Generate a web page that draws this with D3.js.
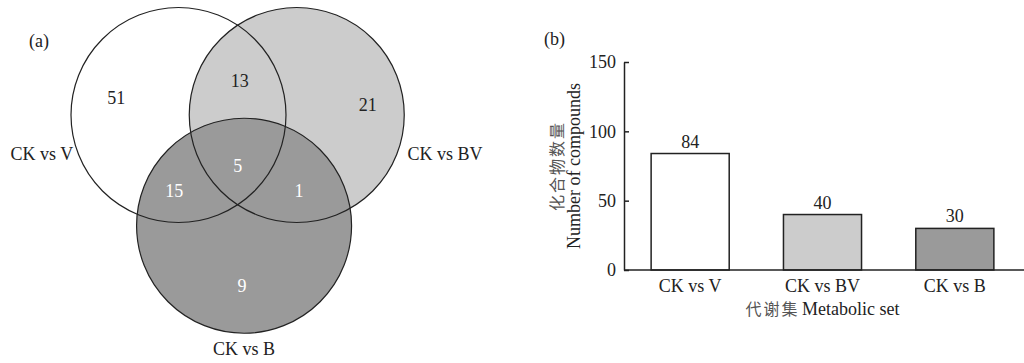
<!DOCTYPE html>
<html>
<head>
<meta charset="utf-8">
<script src="https://cdn.jsdelivr.net/npm/d3@7"></script>
<style>
  body { margin: 0; background: #fff; }
  text { font-family: "Liberation Serif", "Times New Roman", serif; fill: #222; }
  .cjk { font-family: "Noto Sans CJK SC", sans-serif; }
</style>
</head>
<body>
<script>
// data
var sets = ["CK vs V", "CK vs BV", "CK vs B"];
var setColors = ["#ffffff", "#cccccc", "#9a9a9a"];
// venn region counts: key = which sets the region belongs to
var regionKeys = ["V", "BV", "B", "V&BV", "V&B", "BV&B", "V&BV&B"];
var regionCounts = [51, 21, 9, 13, 15, 1, 5];
// bar chart totals
var barValues = [84, 40, 30];
var yTicks = [0, 50, 100, 150];

var W = 1024, H = 363;
var fs = "18px";
var svg = d3.select("body").append("svg")
    .attr("width", W)
    .attr("height", H);

//---------------- (a) Venn ----------------
// layout in unit coords (circle radius = 1)
var vx = d3.scaleLinear().domain([0, 1]).range([178.5, 286]);
var vy = d3.scaleLinear().domain([0, 1]).range([115, 222.5]);
var r = vx(1) - vx(0);

var circlePos = [[0, 0], [1.1, 0], [0.61, 1.03]];
var labelPos = {
    "V": [-0.58, -0.16], "BV": [1.76, -0.1], "B": [0.59, 1.59],
    "V&BV": [0.57, -0.32], "V&B": [-0.04, 0.7], "BV&B": [1.12, 0.7], "V&BV&B": [0.55, 0.47]
};
var darkRegions = ["B", "V&B", "BV&B", "V&BV&B"];

var venn = svg.append("g");
venn.selectAll("circle.fill")
    .data(sets)
    .enter().append("circle")
    .attr("class", "fill")
    .attr("cx", function(d, i) { return vx(circlePos[i][0]); })
    .attr("cy", function(d, i) { return vy(circlePos[i][1]); })
    .attr("r", r)
    .style("fill", function(d, i) { return setColors[i]; });

// outlines drawn last so every edge shows
venn.selectAll("circle.edge")
    .data(sets)
    .enter().append("circle")
    .attr("class", "edge")
    .attr("cx", function(d, i) { return vx(circlePos[i][0]); })
    .attr("cy", function(d, i) { return vy(circlePos[i][1]); })
    .attr("r", r)
    .style("fill", "none")
    .style("stroke", "#222")
    .style("stroke-width", 1.2);

venn.selectAll("text.count")
    .data(regionKeys)
    .enter().append("text")
    .attr("class", "count")
    .attr("x", function(d) { return vx(labelPos[d][0]); })
    .attr("y", function(d) { return vy(labelPos[d][1]); })
    .attr("dy", "0.35em")
    .attr("text-anchor", "middle")
    .style("font-size", fs)
    .style("fill", function(d) { return darkRegions.indexOf(d) >= 0 ? "#fff" : "#222"; })
    .text(function(d, i) { return regionCounts[i]; });

// set names
var setLabelPos = [[-0.98, 0.42, "end"], [2.13, 0.42, "start"], [0.61, 2.23, "middle"]];
venn.selectAll("text.setname")
    .data(sets)
    .enter().append("text")
    .attr("class", "setname")
    .attr("x", function(d, i) { return vx(setLabelPos[i][0]); })
    .attr("y", function(d, i) { return vy(setLabelPos[i][1]); })
    .attr("text-anchor", function(d, i) { return setLabelPos[i][2]; })
    .style("font-size", fs)
    .text(function(d) { return d; });

svg.append("text")
    .attr("x", 29).attr("y", 47)
    .style("font-size", fs)
    .text("(a)");

//---------------- (b) bars ----------------
var x0 = 624, x1 = 1021, yBase = 270, yTop = 62;
var x = d3.scaleBand()
    .domain(sets)
    .range([x0, x1])
    .paddingInner(0.41)
    .paddingOuter(0.205);
var y = d3.scaleLinear()
    .domain([0, 150])
    .range([yBase, yTop]);

var bars = svg.append("g");
bars.selectAll("rect")
    .data(barValues)
    .enter().append("rect")
    .attr("x", function(d, i) { return x(sets[i]); })
    .attr("y", function(d) { return y(d); })
    .attr("width", x.bandwidth())
    .attr("height", function(d) { return yBase - y(d); })
    .style("fill", function(d, i) { return setColors[i]; })
    .style("stroke", "#222")
    .style("stroke-width", 1.5);

bars.selectAll("text.val")
    .data(barValues)
    .enter().append("text")
    .attr("class", "val")
    .attr("x", function(d, i) { return x(sets[i]) + x.bandwidth() / 2; })
    .attr("y", function(d) { return y(d) - 6; })
    .attr("text-anchor", "middle")
    .style("font-size", fs)
    .text(function(d) { return d; });

// y axis, ticks pointing inward
var yAxis = svg.append("g")
    .attr("transform", "translate(" + x0 + ",0)")
    .call(d3.axisRight(y).tickValues(yTicks).tickSize(5).tickSizeOuter(0));
yAxis.select(".domain").attr("stroke", "#222").attr("stroke-width", 1.5);
yAxis.selectAll(".tick line").attr("stroke", "#222").attr("stroke-width", 1.5);
yAxis.selectAll(".tick text")
    .attr("x", -8)
    .attr("text-anchor", "end")
    .style("font-size", fs)
    .style("font-family", "Liberation Serif")
    .attr("fill", "#222");

// x axis
var xAxis = svg.append("g")
    .attr("transform", "translate(0," + yBase + ")")
    .call(d3.axisBottom(x).tickSize(0).tickSizeOuter(0));
xAxis.select(".domain").attr("d", "M" + x0 + ",0H" + W).attr("stroke", "#222").attr("stroke-width", 1.5);
xAxis.selectAll(".tick text")
    .attr("y", 9)
    .style("font-size", fs)
    .style("font-family", "Liberation Serif")
    .attr("fill", "#222");

// axis titles
var xt = svg.append("text")
    .attr("x", (x0 + x1) / 2)
    .attr("y", 315)
    .attr("text-anchor", "middle")
    .style("font-size", fs);
xt.append("tspan").attr("class", "cjk").style("fill", "#555").style("font-size", "16px").style("letter-spacing", "2px").text("代谢集");
xt.append("tspan").attr("dx", -2).text(" Metabolic set");

var yt = svg.append("g").attr("transform", "translate(0,166) rotate(-90)");
yt.append("text")
    .attr("class", "cjk")
    .attr("x", 0).attr("y", 563)
    .attr("text-anchor", "middle")
    .style("font-size", "16px")
    .style("fill", "#555")
    .style("letter-spacing", "2px")
    .text("化合物数量");
yt.append("text")
    .attr("x", 0).attr("y", 580)
    .attr("text-anchor", "middle")
    .style("font-size", fs)
    .text("Number of compounds");

svg.append("text")
    .attr("x", 544).attr("y", 45)
    .style("font-size", fs)
    .text("(b)");
</script>
</body>
</html>
